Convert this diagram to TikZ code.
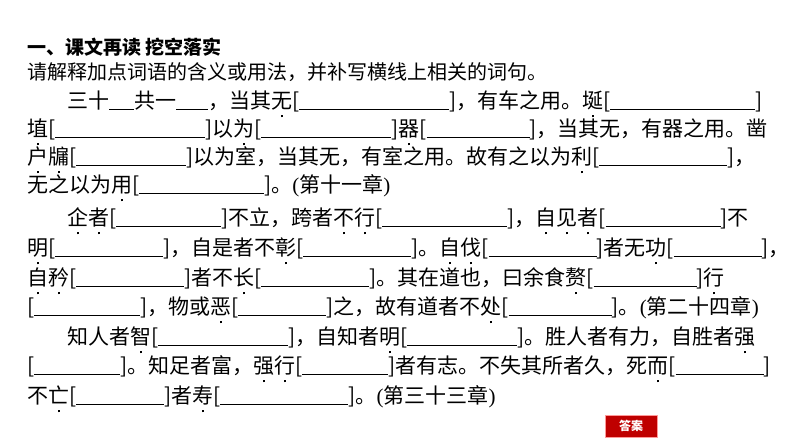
\documentclass[tikz,border=0pt]{standalone}
\usepackage{fontspec}
\setmainfont{Liberation Serif}
\newfontfamily\cjk{Noto Sans CJK SC}
\newsavebox\dtbox
\newcommand\dt[1]{\sbox\dtbox{#1}\rlap{\hbox to\wd\dtbox{\hss\raisebox{-0.45em}{\rule{2.2pt}{2.2pt}}\hss}}\usebox\dtbox}
\newcommand\bk[1]{[\rule[-2pt]{#1pt}{0.8pt}]}
\newcommand\ul[1]{\rule[-2pt]{#1pt}{0.8pt}}
\begin{document}
\begin{tikzpicture}[x=1pt,y=-1pt,
  ln/.style={anchor=base west,inner sep=0pt,font=\fontsize{21}{21}\selectfont\cjk}]
\useasboundingbox (0,0) rectangle (794,447);
\fill[white] (0,0) rectangle (794,447);
\node[ln,font=\fontsize{19}{19}\selectfont\cjk\bfseries] (t) at (27,54) {一、课文再读\ 挖空落实};
\node[ln,font=\fontsize{20}{20}\selectfont\cjk] (s) at (27,79) {请解释加点词语的含义或用法，并补写横线上相关的词句。};
\node[ln] (l1) at (67,108) {三十\ul{25}共一\ul{32}，当其\dt{无}\bk{150}，有车之用。\dt{埏}\bk{145}};
\node[ln] (l2) at (27,136) {\dt{埴}\bk{150}以\dt{为}\bk{130}\dt{器}\bk{103}，当其无，有器之用。凿};
\node[ln] (l3) at (27,164) {\dt{户}\dt{牖}\bk{110}以为室，当其无，有室之用。故有之以为\dt{利}\bk{128}，};
\node[ln] (l4) at (27,192) {无之以为\dt{用}\bk{125}。\textrm{(}第十一章\textrm{)}};
\node[ln] (l5) at (67,225) {\dt{企}\dt{者}\bk{105}不立，跨者\dt{不}\dt{行}\bk{125}，\dt{自}\dt{见}\dt{者}\bk{115}不};
\node[ln] (l6) at (27,255) {\dt{明}\bk{108}，自是者不\dt{彰}\bk{108}。\dt{自}\dt{伐}\bk{108}者无\dt{功}\bk{88}，};
\node[ln] (l7) at (27,285) {\dt{自}\dt{矜}\bk{108}者不\dt{长}\bk{108}。其在道也，曰余食\dt{赘}\bk{103}\dt{行}};
\node[ln] (l8) at (27,314) {\bk{106}，物或\dt{恶}\bk{88}之，故有道者不\dt{处}\bk{103}。\textrm{(}第二十四章\textrm{)}};
\node[ln] (l9) at (67,344) {知人者\dt{智}\bk{130}，自知者\dt{明}\bk{110}。胜人者有力，自胜者\dt{强}};
\node[ln] (l10) at (27,373) {\bk{86}。知足者富，\dt{强}\dt{行}\bk{86}者有志。不失其所者久，死\dt{而}\bk{88}};
\node[ln] (l11) at (27,403) {不\dt{亡}\bk{88}者\dt{寿}\bk{128}。\textrm{(}第三十三章\textrm{)}};
\node[fill=red!75!black,draw=red!40,text=white,font=\fontsize{12}{12}\selectfont\cjk\bfseries,
  minimum width=52pt,minimum height=22pt,inner sep=0pt] (ans) at (631,426) {答案};
\end{tikzpicture}
\end{document}
